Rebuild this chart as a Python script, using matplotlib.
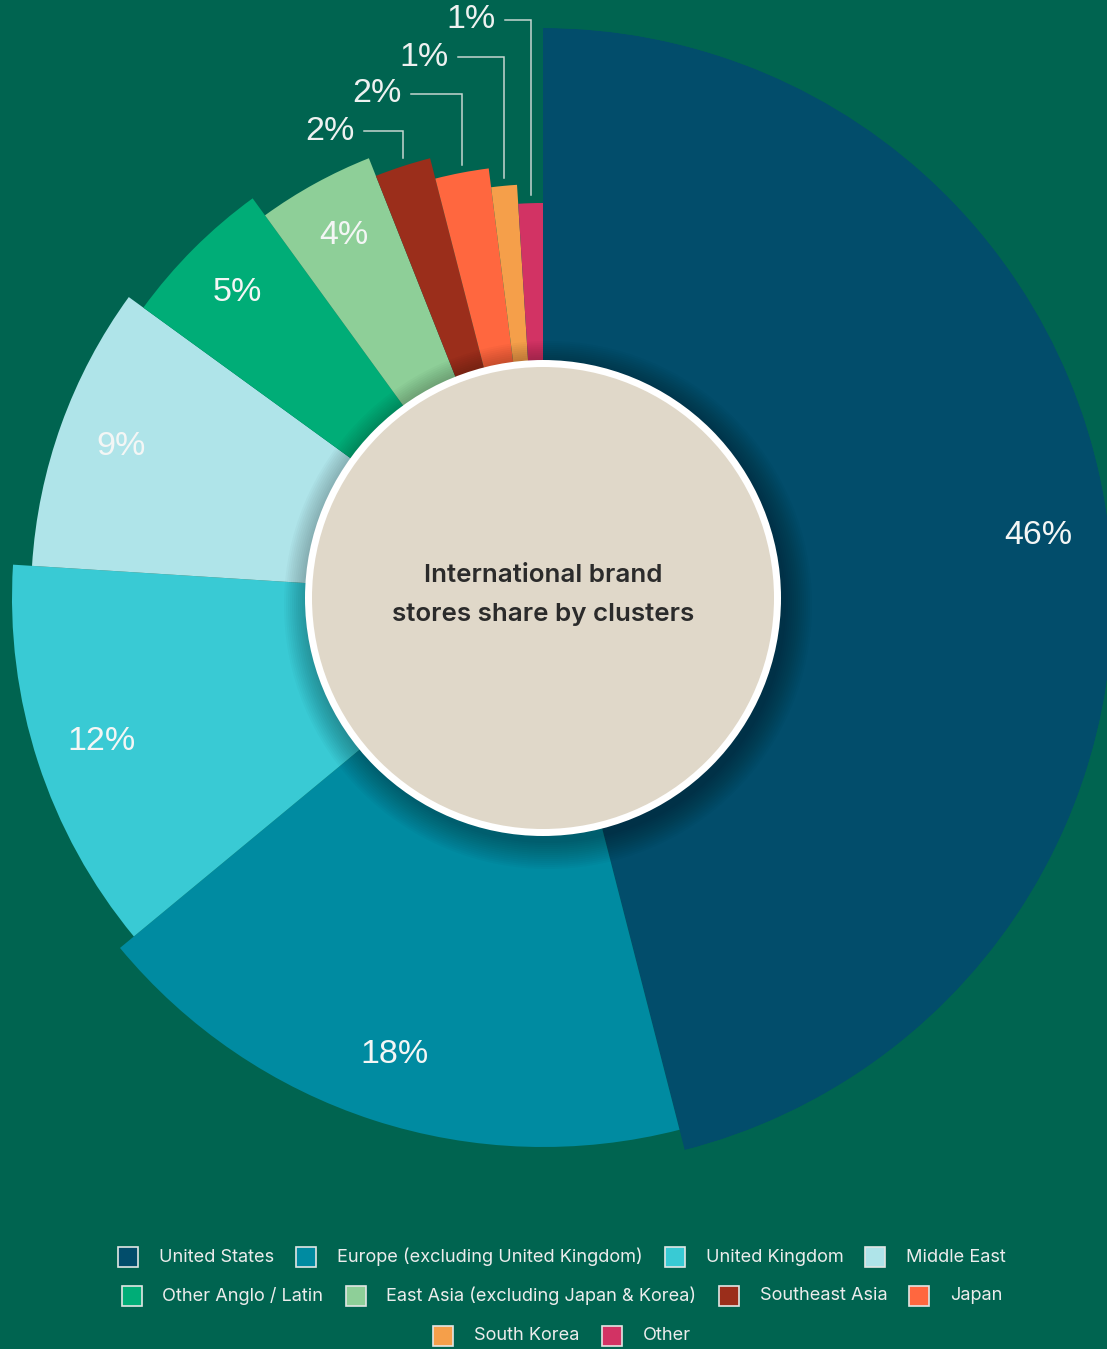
import numpy as np
import matplotlib.pyplot as plt
from matplotlib.patches import Circle, Rectangle

# Store share by cluster (percent)
clusters = ["United States", "Europe (excluding United Kingdom)", "United Kingdom",
            "Middle East", "Other Anglo / Latin", "East Asia (excluding Japan & Korea)",
            "Southeast Asia", "Japan", "South Korea", "Other"]
shares = [46, 18, 12, 9, 5, 4, 2, 2, 1, 1]
# outer radius of each slice (px), decreasing slice by slice
slice_radius = [570, 549, 531, 512, 494, 473, 454, 433, 414, 395]
colors = ["#024D6B", "#008BA1", "#39CAD4", "#AFE4E9", "#00AD77",
          "#8ECF98", "#9B2E1B", "#FF673F", "#F59F4A", "#D23364"]
title_lines = ["International brand", "stores share by clusters"]

BG = "#006450"
W, H = 1107, 1349
CX, CY = 543, 598
R_MAX = 570
R_HOLE = 231
RING = 7
FONT = ["Inter", "DejaVu Sans"]
LABEL_FONT = ["Liberation Sans", "DejaVu Sans"]

fig = plt.figure(figsize=(W / 100, H / 100), dpi=100, facecolor=BG)

# polar axes holding the slices
pax = fig.add_axes([(CX - R_MAX) / W, (H - CY - R_MAX) / H, 2 * R_MAX / W, 2 * R_MAX / H],
                   projection="polar")
pax.set_theta_zero_location("N")
pax.set_theta_direction(-1)
pax.set_ylim(0, R_MAX)
pax.set_axis_off()
pax.set_zorder(1)

frac = np.array(shares) / sum(shares)
widths = frac * 2 * np.pi
starts = np.concatenate([[0], np.cumsum(widths)[:-1]])
mids = starts + widths / 2
pax.bar(starts, slice_radius, width=widths, align="edge", color=colors, linewidth=0)

# labels inside the bigger slices
for i in range(6):
    pax.text(mids[i], slice_radius[i] * 0.875, f"{shares[i]}%", ha="center", va="center",
             fontsize=24.5, color="#F4F6F5", family=LABEL_FONT)

# overlay axes in pixel coordinates
oax = fig.add_axes([0, 0, 1, 1])
oax.set_xlim(0, W)
oax.set_ylim(H, 0)
oax.set_axis_off()
oax.set_zorder(2)

# soft shadow round the centre disc
for k in range(14):
    oax.add_patch(Circle((CX + 5, CY + 7), R_HOLE + RING + 2 * k, color="black",
                         alpha=0.025, linewidth=0))
oax.add_patch(Circle((CX, CY), R_HOLE + RING, color="white", linewidth=0))
oax.add_patch(Circle((CX, CY), R_HOLE, color="#E0D8C9", linewidth=0))
oax.text(CX, 576, title_lines[0], ha="center", va="center", fontsize=18.7,
         fontweight="semibold", color="#2B2B2B", family=FONT)
oax.text(CX, 614, title_lines[1], ha="center", va="center", fontsize=18.7,
         fontweight="semibold", color="#2B2B2B", family=FONT)

# call-out labels for the four thin slices
renderer = fig.canvas.get_renderer()
LINE_C = "#C6D6D0"
for k, i in enumerate(range(6, 10)):
    tx, ty = 305 + 47 * k, 131 - 37 * k
    t = oax.text(tx, ty, f"{shares[i]}%", ha="left", va="center", fontsize=24.5,
                 color="#EEF1F0", family=LABEL_FONT)
    bb = t.get_window_extent(renderer)
    x_end = tx + bb.width
    r = slice_radius[i]
    px = CX + r * np.sin(mids[i])
    py = CY - r * np.cos(mids[i])
    oax.plot([x_end + 10, px, px], [ty, ty, py - 8], color=LINE_C, lw=1.1,
             solid_joinstyle="miter")

# legend, three centred rows
rows = [range(0, 4), range(4, 8), range(8, 10)]
row_y = [1257, 1296, 1336]
SQ, GAP_T, GAP_I = 20, 21, 22
LEG_CENTER = 562
for idx, y in zip(rows, row_y):
    items = []
    for i in idx:
        t = oax.text(0, y, clusters[i], ha="left", va="center", fontsize=13.1,
                     color="#ECECEC", family=FONT)
        w = t.get_window_extent(renderer).width
        items.append((i, t, w))
    total = sum(SQ + GAP_T + w for _, _, w in items) + GAP_I * (len(items) - 1)
    x = LEG_CENTER - total / 2
    for i, t, w in items:
        oax.add_patch(Rectangle((x, y - SQ / 2), SQ, SQ, facecolor=colors[i],
                                edgecolor="#E2E6E4", linewidth=1.2))
        t.set_x(x + SQ + GAP_T)
        x += SQ + GAP_T + w + GAP_I

fig.savefig("out.png", dpi=100, facecolor=BG)
